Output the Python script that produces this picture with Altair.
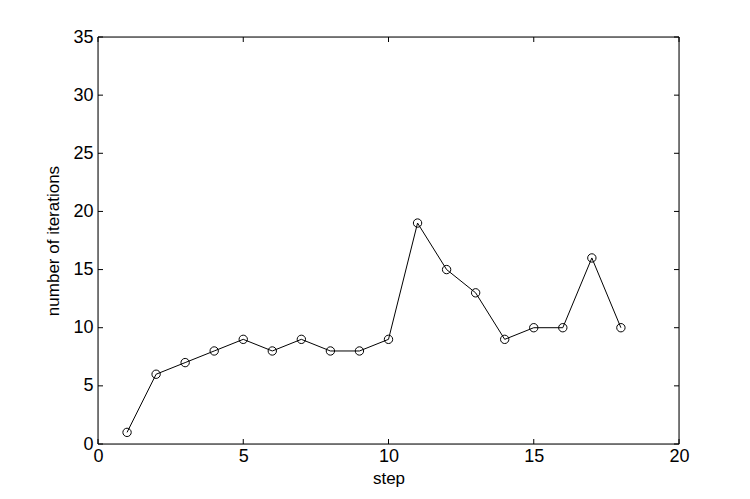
import altair as alt
import pandas as pd

steps = list(range(1, 19))
iterations = [1, 6, 7, 8, 9, 8, 9, 8, 8, 9, 19, 15, 13, 9, 10, 10, 16, 10]
x_ticks = [0, 5, 10, 15, 20]
y_ticks = [0, 5, 10, 15, 20, 25, 30, 35]

W, H = 581, 407
T = 5

df = pd.DataFrame({"step": steps, "iterations": iterations})
xt = pd.DataFrame({"t": x_ticks})
yt = pd.DataFrame({"t": y_ticks})

FONT = "Liberation Sans"
xs = alt.Scale(domain=[0, 20], nice=False, zero=False)
ys = alt.Scale(domain=[0, 35], nice=False, zero=False)

xaxis = alt.Axis(values=x_ticks, tickSize=0, labelPadding=3, title="step",
                 titleFontWeight="normal", titleFontSize=17, titlePadding=5,
                 labelFontSize=18, grid=False, domain=False, labelColor="black",
                 titleColor="black", labelFont=FONT, titleFont=FONT, labelFlush=False)
yaxis = alt.Axis(values=y_ticks, tickSize=0, labelPadding=5, title="number of iterations",
                 titleFontWeight="normal", titleFontSize=17, titlePadding=10,
                 labelFontSize=18, grid=False, domain=False, labelColor="black",
                 titleColor="black", labelFont=FONT, titleFont=FONT, labelFlush=False)

line = alt.Chart(df).mark_line(color="black", strokeWidth=1).encode(
    x=alt.X("step:Q", scale=xs, axis=xaxis),
    y=alt.Y("iterations:Q", scale=ys, axis=yaxis),
)
pts = alt.Chart(df).mark_point(shape="circle", filled=False, color="black",
                               size=70, strokeWidth=1, opacity=1).encode(
    x=alt.X("step:Q", scale=xs),
    y=alt.Y("iterations:Q", scale=ys),
)

xb = alt.Chart(xt).mark_rule(color="black", strokeWidth=1).encode(
    x=alt.X("t:Q", scale=xs), y=alt.value(H), y2=alt.value(H - T))
xtop = alt.Chart(xt).mark_rule(color="black", strokeWidth=1).encode(
    x=alt.X("t:Q", scale=xs), y=alt.value(0), y2=alt.value(T))
yl = alt.Chart(yt).mark_rule(color="black", strokeWidth=1).encode(
    y=alt.Y("t:Q", scale=ys), x=alt.value(0), x2=alt.value(T))
yr = alt.Chart(yt).mark_rule(color="black", strokeWidth=1).encode(
    y=alt.Y("t:Q", scale=ys), x=alt.value(W), x2=alt.value(W - T))

frame = pd.DataFrame({"k": [0]})
f_top = alt.Chart(frame).mark_rule(color="black", strokeWidth=1).encode(
    x=alt.value(0), x2=alt.value(W), y=alt.value(0))
f_bot = alt.Chart(frame).mark_rule(color="black", strokeWidth=1).encode(
    x=alt.value(0), x2=alt.value(W), y=alt.value(H))
f_left = alt.Chart(frame).mark_rule(color="black", strokeWidth=1).encode(
    y=alt.value(0), y2=alt.value(H), x=alt.value(0))
f_right = alt.Chart(frame).mark_rule(color="black", strokeWidth=1).encode(
    y=alt.value(0), y2=alt.value(H), x=alt.value(W))

chart = alt.layer(line, pts, xb, xtop, yl, yr, f_top, f_bot, f_left, f_right).properties(
    width=W, height=H,
    autosize=alt.AutoSizeParams(type="none"),
    padding={"left": 90, "top": 29, "right": 50, "bottom": 46},
).configure_view(stroke=None).configure(background="white")

chart.save("out.html", embed_options={"renderer": "svg", "actions": False})
